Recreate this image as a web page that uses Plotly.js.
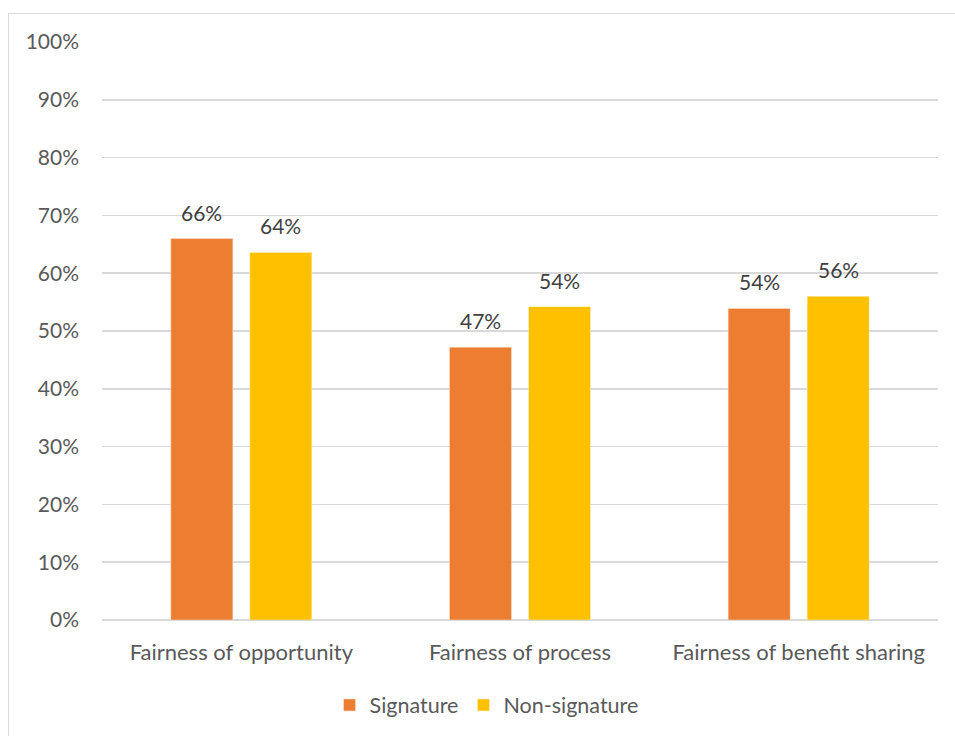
<!DOCTYPE html>
<html><head><meta charset="utf-8">
<script src="https://cdn.plot.ly/plotly-3.0.1.min.js"></script>
<style>
html,body{margin:0;padding:0;background:#fff;overflow:hidden}
#frame{position:absolute;left:8px;top:13px;width:1000px;height:800px;border:1px solid #d9d9d9;box-sizing:border-box;pointer-events:none;z-index:5}
#chart{position:absolute;left:0;top:0;width:955px;height:736px}
</style></head>
<body>
<div id="chart"></div>
<div id="frame"></div>
<script>
const categories = ["Fairness of opportunity", "Fairness of process", "Fairness of benefit sharing"];
const signature = [0.66, 0.472, 0.539];
const nonSignature = [0.636, 0.542, 0.56];
const signatureLabels = ["66%", "47%", "54%"];
const nonSignatureLabels = ["64%", "54%", "56%"];

const font = "Lato, 'Open Sans', sans-serif";
const traces = [
  {type:"bar", name:"Signature", x:categories, y:signature,
   marker:{color:"#ED7D31", line:{color:"#fbe5d6", width:0.5}}},
  {type:"bar", name:"Non-signature", x:categories, y:nonSignature,
   marker:{color:"#FFC000", line:{color:"#fff2cc", width:0.5}}}
];
const annotations = [];
const series = [[signature, signatureLabels, -39.5], [nonSignature, nonSignatureLabels, 39.5]];
series.forEach(([vals, labs, dx]) => {
  categories.forEach((c, i) => {
    annotations.push({x:c, y:vals[i], xref:"x", yref:"y", text:labs[i], showarrow:false,
      xshift:dx, yshift:12, yanchor:"bottom", xanchor:"center",
      font:{size:21, color:"#404040", family:font}});
  });
});
const layout = {
  width:955, height:736,
  margin:{l:102, r:17, t:42, b:115},
  paper_bgcolor:"#fff", plot_bgcolor:"#fff",
  font:{family:font, color:"#595959", size:21},
  barmode:"group", bargap:0.433, bargroupgap:0.215,
  showlegend:true,
  legend:{orientation:"h", x:0.46, xanchor:"center", y:-0.145, yanchor:"middle",
          font:{size:21.5, color:"#595959", family:font}, traceorder:"normal"},
  annotations: annotations,
  xaxis:{showgrid:false, showline:false, ticks:"", ticklabelstandoff:17,
         tickfont:{size:22, color:"#595959", family:font}},
  yaxis:{range:[0,1], dtick:0.1, tickformat:".0%", showgrid:true, gridcolor:"#d9d9d9", gridwidth:1.5,
         zeroline:true, zerolinecolor:"#d9d9d9", zerolinewidth:1.5, showline:false, ticks:"",
         ticklabelstandoff:22, tickfont:{size:21, color:"#595959", family:font}}
};
Plotly.newPlot("chart", traces, layout, {displayModeBar:false, staticPlot:true});
</script>
</body></html>
